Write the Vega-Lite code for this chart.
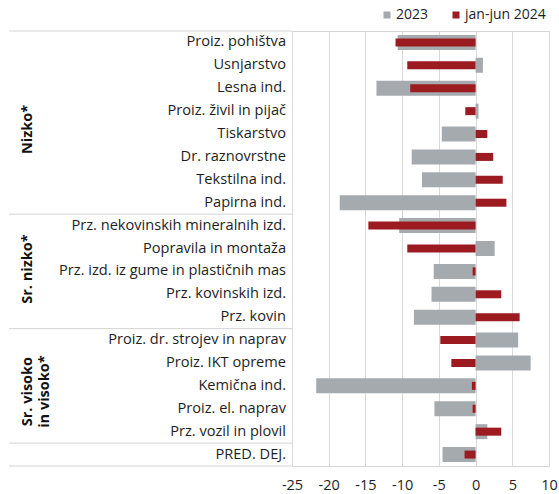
{
  "$schema": "https://vega.github.io/schema/vega-lite/v6.json",
  "padding": {"left": 8, "top": 8, "right": 5, "bottom": 5},
  "bounds": "flush",
  "spacing": 0,
  "config": {
    "font": "Open Sans",
    "view": {"stroke": null},
    "axis": {"labelFont": "Open Sans"},
    "legend": {"labelFont": "Open Sans"}
  },
  "datasets": {
    "bars": [
      {"cat": "Proiz. pohištva", "group": "Nizko*", "series": "2023", "value": -10.6},
      {"cat": "Proiz. pohištva", "group": "Nizko*", "series": "jan-jun 2024", "value": -10.9},
      {"cat": "Usnjarstvo", "group": "Nizko*", "series": "2023", "value": 1.0},
      {"cat": "Usnjarstvo", "group": "Nizko*", "series": "jan-jun 2024", "value": -9.3},
      {"cat": "Lesna ind.", "group": "Nizko*", "series": "2023", "value": -13.5},
      {"cat": "Lesna ind.", "group": "Nizko*", "series": "jan-jun 2024", "value": -8.9},
      {"cat": "Proiz. živil in pijač", "group": "Nizko*", "series": "2023", "value": 0.4},
      {"cat": "Proiz. živil in pijač", "group": "Nizko*", "series": "jan-jun 2024", "value": -1.4},
      {"cat": "Tiskarstvo", "group": "Nizko*", "series": "2023", "value": -4.6},
      {"cat": "Tiskarstvo", "group": "Nizko*", "series": "jan-jun 2024", "value": 1.6},
      {"cat": "Dr. raznovrstne", "group": "Nizko*", "series": "2023", "value": -8.7},
      {"cat": "Dr. raznovrstne", "group": "Nizko*", "series": "jan-jun 2024", "value": 2.4},
      {"cat": "Tekstilna ind.", "group": "Nizko*", "series": "2023", "value": -7.3},
      {"cat": "Tekstilna ind.", "group": "Nizko*", "series": "jan-jun 2024", "value": 3.7},
      {"cat": "Papirna ind.", "group": "Nizko*", "series": "2023", "value": -18.5},
      {"cat": "Papirna ind.", "group": "Nizko*", "series": "jan-jun 2024", "value": 4.2},
      {"cat": "Prz. nekovinskih mineralnih izd.", "group": "Sr. nizko*", "series": "2023", "value": -10.4},
      {"cat": "Prz. nekovinskih mineralnih izd.", "group": "Sr. nizko*", "series": "jan-jun 2024", "value": -14.6},
      {"cat": "Popravila in montaža", "group": "Sr. nizko*", "series": "2023", "value": 2.6},
      {"cat": "Popravila in montaža", "group": "Sr. nizko*", "series": "jan-jun 2024", "value": -9.3},
      {"cat": "Prz. izd. iz gume in plastičnih mas", "group": "Sr. nizko*", "series": "2023", "value": -5.7},
      {"cat": "Prz. izd. iz gume in plastičnih mas", "group": "Sr. nizko*", "series": "jan-jun 2024", "value": -0.4},
      {"cat": "Prz. kovinskih izd.", "group": "Sr. nizko*", "series": "2023", "value": -6.0},
      {"cat": "Prz. kovinskih izd.", "group": "Sr. nizko*", "series": "jan-jun 2024", "value": 3.5},
      {"cat": "Prz. kovin", "group": "Sr. nizko*", "series": "2023", "value": -8.4},
      {"cat": "Prz. kovin", "group": "Sr. nizko*", "series": "jan-jun 2024", "value": 6.0},
      {"cat": "Proiz. dr. strojev in naprav", "group": "Sr. visoko in visoko*", "series": "2023", "value": 5.8},
      {"cat": "Proiz. dr. strojev in naprav", "group": "Sr. visoko in visoko*", "series": "jan-jun 2024", "value": -4.8},
      {"cat": "Proiz. IKT opreme", "group": "Sr. visoko in visoko*", "series": "2023", "value": 7.5},
      {"cat": "Proiz. IKT opreme", "group": "Sr. visoko in visoko*", "series": "jan-jun 2024", "value": -3.3},
      {"cat": "Kemična ind.", "group": "Sr. visoko in visoko*", "series": "2023", "value": -21.7},
      {"cat": "Kemična ind.", "group": "Sr. visoko in visoko*", "series": "jan-jun 2024", "value": -0.5},
      {"cat": "Proiz. el. naprav", "group": "Sr. visoko in visoko*", "series": "2023", "value": -5.6},
      {"cat": "Proiz. el. naprav", "group": "Sr. visoko in visoko*", "series": "jan-jun 2024", "value": -0.4},
      {"cat": "Prz. vozil in plovil", "group": "Sr. visoko in visoko*", "series": "2023", "value": 1.6},
      {"cat": "Prz. vozil in plovil", "group": "Sr. visoko in visoko*", "series": "jan-jun 2024", "value": 3.5},
      {"cat": "PRED. DEJ.", "group": "", "series": "2023", "value": -4.5},
      {"cat": "PRED. DEJ.", "group": "", "series": "jan-jun 2024", "value": -1.5}
    ],
    "groups": [
      {"label": "Nizko*", "cat": "Tiskarstvo"},
      {"label": "Sr. nizko*", "cat": "Prz. izd. iz gume in plastičnih mas"},
      {"label": "Sr. visoko\nin visoko*", "cat": "Kemična ind."}
    ]
  },
  "resolve": {"scale": {"y": "shared"}},
  "hconcat": [
    {
      "width": 283,
      "height": 435,
      "view": {"stroke": null},
      "layer": [
        {
          "data": {"name": "bars"},
          "transform": [{"filter": "datum.series === '2023'"}],
          "mark": {"type": "text", "align": "right", "baseline": "middle", "dx": -6, "fontSize": 14.6, "color": "#1e1e1e"},
          "encoding": {
            "x": {"datum": 1, "type": "quantitative", "scale": {"domain": [0, 1], "nice": false, "zero": false}, "axis": null},
            "y": {"field": "cat", "type": "nominal", "sort": null, "scale": {"type": "band", "paddingInner": 0, "paddingOuter": 0}, "axis": null},
            "text": {"field": "cat"}
          }
        },
        {
          "data": {"name": "bars"},
          "transform": [{"filter": "datum.series === '2023' && (datum.cat === 'Papirna ind.' || datum.cat === 'Prz. kovin' || datum.cat === 'Prz. vozil in plovil' || datum.cat === 'PRED. DEJ.')"}],
          "mark": {"type": "rule", "color": "#d4d4d4", "strokeWidth": 1},
          "encoding": {
            "x": {"datum": 0, "type": "quantitative"},
            "x2": {"datum": 1},
            "y": {"field": "cat", "type": "nominal", "sort": null, "bandPosition": 1, "axis": null}
          }
        },
        {
          "data": {"name": "bars"},
          "transform": [{"filter": "datum.series === '2023' && datum.cat === 'Proiz. pohištva'"}],
          "mark": {"type": "rule", "color": "#d4d4d4", "strokeWidth": 1},
          "encoding": {
            "x": {"datum": 0, "type": "quantitative"},
            "x2": {"datum": 1},
            "y": {"field": "cat", "type": "nominal", "sort": null, "bandPosition": 0, "axis": null}
          }
        },
        {
          "data": {"name": "groups"},
          "transform": [{"filter": "datum.label === 'Nizko*'"}],
          "mark": {"type": "text", "angle": 270, "align": "center", "baseline": "middle", "fontSize": 14.5, "fontWeight": "bold", "color": "#111111", "lineBreak": "\n", "lineHeight": 17},
          "encoding": {
            "x": {"datum": 0.068, "type": "quantitative"},
            "y": {"field": "cat", "type": "nominal", "sort": null, "bandPosition": 0.3, "axis": null},
            "text": {"field": "label"}
          }
        },
        {
          "data": {"name": "groups"},
          "transform": [{"filter": "datum.label === 'Sr. nizko*'"}],
          "mark": {"type": "text", "angle": 270, "align": "center", "baseline": "middle", "fontSize": 14.5, "fontWeight": "bold", "color": "#111111", "lineBreak": "\n", "lineHeight": 17},
          "encoding": {
            "x": {"datum": 0.068, "type": "quantitative"},
            "y": {"field": "cat", "type": "nominal", "sort": null, "bandPosition": 0.4, "axis": null},
            "text": {"field": "label"}
          }
        },
        {
          "data": {"name": "groups"},
          "transform": [{"filter": "datum.label === 'Sr. visoko\\nin visoko*'"}],
          "mark": {"type": "text", "angle": 270, "align": "center", "baseline": "middle", "fontSize": 14.5, "fontWeight": "bold", "color": "#111111", "lineBreak": "\n", "lineHeight": 17},
          "encoding": {
            "x": {"datum": 0.068, "type": "quantitative"},
            "y": {"field": "cat", "type": "nominal", "sort": null, "bandPosition": 0.75, "axis": null},
            "text": {"field": "label"}
          }
        }
      ]
    },
    {
      "width": 257,
      "height": 435,
      "view": {"stroke": "#d4d4d4", "strokeWidth": 1},
      "data": {"name": "bars"},
      "encoding": {
        "y": {"field": "cat", "type": "nominal", "sort": null, "scale": {"type": "band", "paddingInner": 0, "paddingOuter": 0}, "axis": null},
        "x": {
          "field": "value", "type": "quantitative",
          "scale": {"domain": [-25, 10], "nice": false},
          "axis": {
            "title": null, "values": [-25, -20, -15, -10, -5, 0, 5, 10],
            "grid": true, "gridColor": "#d9d9d9", "gridWidth": 1,
            "domain": false, "ticks": false, "labelFlush": false,
            "labelPadding": 12, "labelFontSize": 14.5, "labelColor": "#1e1e1e",
            "labelExpr": "datum.value < 0 ? '-' + abs(datum.value) : '' + datum.value"
          }
        },
        "color": {
          "field": "series", "type": "nominal",
          "scale": {"domain": ["2023", "jan-jun 2024"], "range": ["#a5aaaf", "#9b1b21"]},
          "legend": {
            "title": null, "orient": "none", "direction": "horizontal",
            "legendX": 371, "legendY": -23,
            "symbolType": "square", "symbolSize": 49, "symbolStrokeWidth": 0,
            "labelFontSize": 14, "labelColor": "#1e1e1e", "labelOffset": 2,
            "columnPadding": 20
          }
        }
      },
      "layer": [
        {
          "transform": [{"filter": "datum.series === '2023'"}],
          "mark": {"type": "bar", "size": 15}
        },
        {
          "transform": [{"filter": "datum.series === 'jan-jun 2024'"}],
          "mark": {"type": "bar", "size": 8}
        }
      ]
    }
  ]
}
